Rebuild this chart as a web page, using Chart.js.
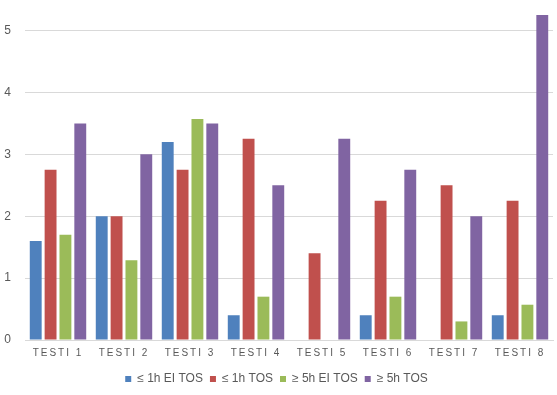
<!DOCTYPE html>
<html>
<head>
<meta charset="utf-8">
<script src="https://cdn.jsdelivr.net/npm/chart.js@4/dist/chart.umd.min.js"></script>
<style>
  html, body { margin: 0; padding: 0; background: #fff; }
  #wrap { width: 557px; height: 395px; }
</style>
</head>
<body>
<div id="wrap"><canvas id="chart"></canvas></div>
<script>
let categories = ["TESTI 1", "TESTI 2", "TESTI 3", "TESTI 4", "TESTI 5", "TESTI 6", "TESTI 7", "TESTI 8"]
let series_names = ["≤ 1h EI TOS", "≤ 1h TOS", "≥ 5h EI TOS", "≥ 5h TOS"]
let le1h_ei_tos = [1.6, 2.0, 3.2, 0.4, 0, 0.4, 0, 0.4]
let le1h_tos = [2.75, 2.0, 2.75, 3.25, 1.4, 2.25, 2.5, 2.25]
let ge5h_ei_tos = [1.7, 1.29, 3.57, 0.7, 0, 0.7, 0.3, 0.57]
let ge5h_tos = [3.5, 3.0, 3.5, 2.5, 3.25, 2.75, 2.0, 5.25]
let y_ticks = [0, 1, 2, 3, 4, 5]

let colors = ["#4F81BD", "#C0504D", "#9BBB59", "#8064A2"]
let values = [le1h_ei_tos, le1h_tos, ge5h_ei_tos, ge5h_tos]

let datasets = []
for (let i = 0; i < values.length; i++) {
    datasets.push({
        label: series_names[i],
        data: values[i],
        backgroundColor: colors[i],
        borderWidth: 0,
        categoryPercentage: 0.9,
        barPercentage: 0.8
    })
}

// spread the letters of the x labels like the original
let spaced_labels = {
    id: "spacedLabels",
    beforeDraw(chart) {
        let x = chart.scales.x
        if (!x || x._spaced) return
        let orig = x.drawLabels.bind(x)
        x.drawLabels = function (area) {
            chart.ctx.letterSpacing = "2px"
            orig(area)
            chart.ctx.letterSpacing = "0px"
        }
        x._spaced = true
    }
}

new Chart("chart", {
    type: "bar",
    data: { labels: categories, datasets: datasets },
    plugins: [spaced_labels],
    options: {
        responsive: true,
        maintainAspectRatio: false,
        animation: false,
        layout: { padding: { left: 0, right: 4, top: 12, bottom: 0 } },
        plugins: {
            legend: {
                position: "bottom",
                labels: {
                    boxWidth: 6,
                    boxHeight: 6,
                    padding: 7,
                    color: "#595959",
                    font: { family: "Liberation Sans, Arial", size: 12 }
                }
            },
            tooltip: { enabled: false }
        },
        scales: {
            x: {
                grid: { display: false, drawTicks: false },
                border: { color: "#D9D9D9" },
                ticks: {
                    color: "#595959",
                    padding: 7,
                    font: { family: "Liberation Sans, Arial", size: 10 }
                }
            },
            y: {
                min: 0,
                max: 5.3,
                afterBuildTicks(scale) {
                    scale.ticks = y_ticks.map(v => ({ value: v }))
                },
                afterFit(scale) {
                    scale.width = 25
                    scale.paddingTop = 0
                    scale.paddingBottom = 0
                },
                grid: { color: "#D9D9D9", drawTicks: false },
                border: { display: false },
                ticks: {
                    color: "#595959",
                    padding: 14,
                    font: { family: "Liberation Sans, Arial", size: 12 }
                }
            }
        }
    }
})
</script>
</body>
</html>
